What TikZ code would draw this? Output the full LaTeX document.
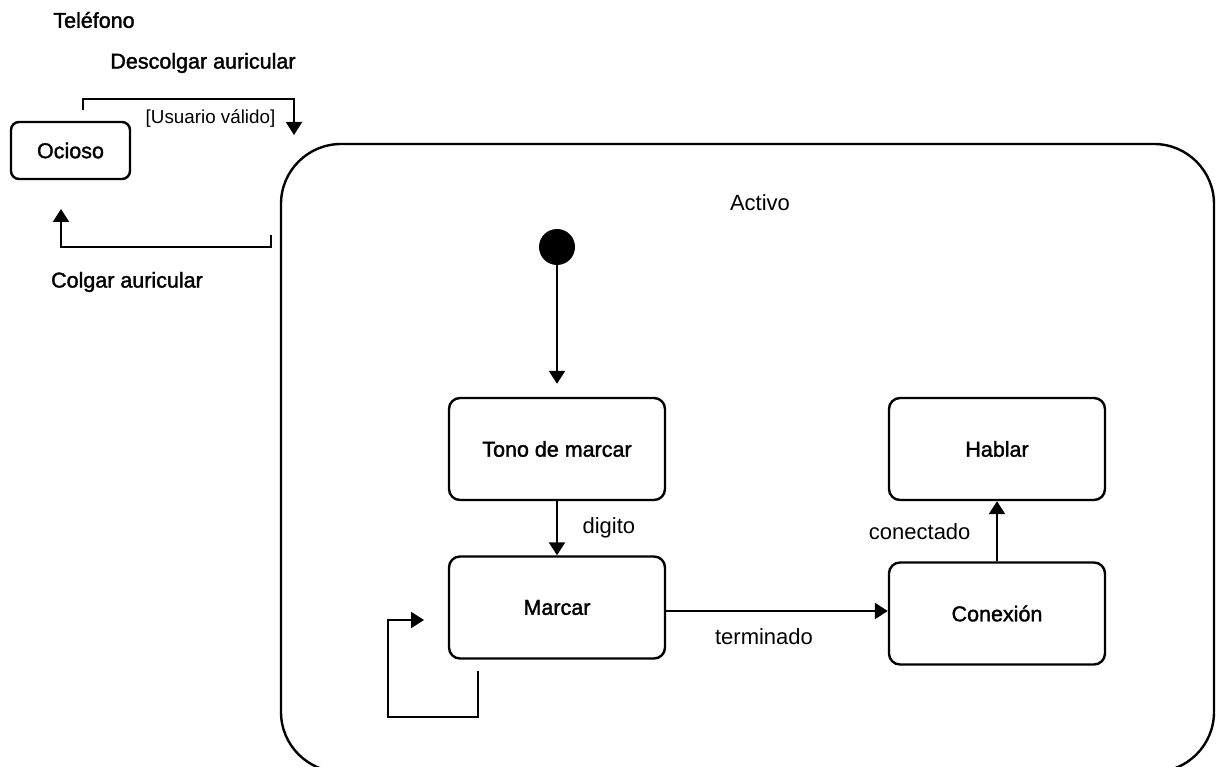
\documentclass[tikz,border=0pt]{standalone}
\usepackage{fontspec}
\setmainfont{Liberation Sans}
\newfontfamily\medfont[FakeBold=1.6]{Liberation Sans}
\usetikzlibrary{arrows.meta}
\begin{document}
\begin{tikzpicture}[x=1pt,y=-1pt,
  every node/.style={font=\fontsize{22}{26}\selectfont},
  medlabel/.style={font=\medfont\fontsize{21.5}{26}\selectfont},
  statebox/.style={draw, line width=2.4pt, rounded corners=11pt, inner sep=0pt,
    minimum width=216pt, minimum height=102pt, medlabel},
  arr/.style={line width=2.4pt, -{Triangle[length=13pt,width=16pt]}}]
\useasboundingbox (0,0) rectangle (1216,767);

% titles and outer transitions
\node[medlabel] (tel) at (94,20) {Teléfono};
\node[medlabel] (desc) at (203,63) {Descolgar auricular};
\node[medlabel] (colg) at (127,282) {Colgar auricular};
\node[font=\fontsize{18.8}{22}\selectfont] (valido) at (210.5,119) {[Usuario válido]};

\node[draw, line width=2.4pt, rounded corners=8pt, inner sep=0pt,
  minimum width=119pt, minimum height=57pt, medlabel] (ocioso) at (70.5,150.5) {Ocioso};

% composite state
\node[draw, line width=2.4pt, rounded corners=60pt, inner sep=0pt,
  minimum width=933pt, minimum height=628pt] (activo) at (747.5,458) {};
\node (activolbl) at (760,203) {Activo};

% Descolgar auricular
\coordinate (d0) at (83,110);
\coordinate (dbend) at (294,99);
\coordinate (d1) at (294,135);
\draw[arr] (d0) |- (dbend) -- (d1);

% Colgar auricular
\coordinate (c0) at (271,235);
\coordinate (cbend) at (61,247);
\coordinate (c1) at (61,209);
\draw[arr] (c0) |- (cbend) -- (c1);

% inner states
\node[circle, fill, inner sep=0pt, minimum size=36pt] (init) at (557,247) {};
\node[statebox] (tono) at (557,449) {Tono de marcar};
\node[statebox] (marcar) at (557,607.5) {Marcar};
\node[statebox] (hablar) at (997,449) {Hablar};
\node[statebox] (conex) at (997,613.5) {Conexión};

\draw[arr, shorten >=13pt] (init) -- (tono);
\draw[arr] (tono) -- (marcar) node[midway, right=21pt] (digito) {digito};
\draw[arr] (marcar.east |- 0,611) -- (conex.west |- 0,611)
  node[midway, below=13pt, xshift=-13pt] (term) {terminado};
\draw[arr] (conex) -- (hablar) node[midway, left=22pt] (conect) {conectado};

% self transition on Marcar
\coordinate (m0) at (478,671);
\coordinate (mb1) at (478,717);
\coordinate (mb2) at (388,620);
\coordinate (m1) at (424,620);
\draw[arr] (m0) -- (mb1) -| (mb2) -- (m1);
\end{tikzpicture}
\end{document}
